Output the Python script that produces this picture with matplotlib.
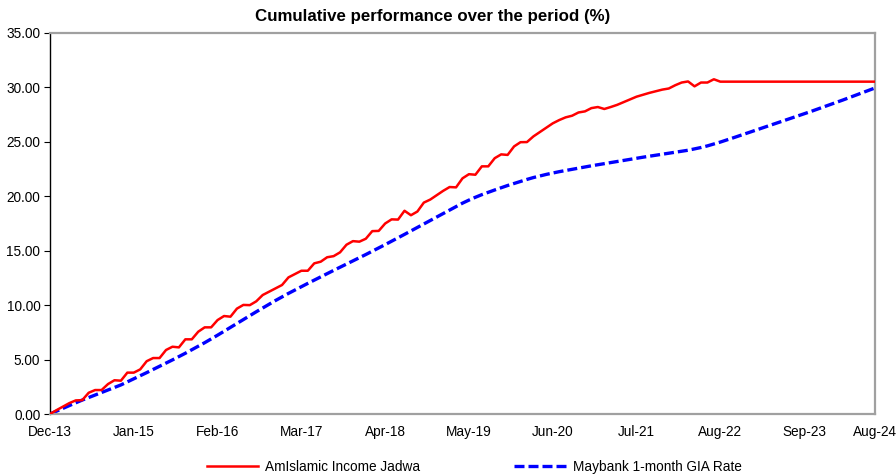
import matplotlib
matplotlib.use("Agg")
import matplotlib.pyplot as plt
import numpy as np

plt.rcParams['font.family'] = ['Liberation Sans', 'DejaVu Sans']

fund = [0.00, 0.35, 0.67, 1.00, 1.25, 1.27, 1.95, 2.20, 2.20, 2.75,
        3.10, 3.06, 3.80, 3.80, 4.10, 4.85, 5.14, 5.14, 5.88, 6.18,
        6.12, 6.86, 6.86, 7.56, 7.96, 7.96, 8.63, 9.00, 8.94, 9.68,
        10.02, 10.00, 10.35, 10.93, 11.24, 11.55, 11.85, 12.55, 12.86, 13.16,
        13.16, 13.84, 13.99, 14.40, 14.50, 14.85, 15.55, 15.88, 15.83, 16.10,
        16.80, 16.82, 17.50, 17.88, 17.86, 18.67, 18.26, 18.60, 19.42, 19.70,
        20.10, 20.50, 20.85, 20.82, 21.65, 22.03, 21.98, 22.75, 22.75, 23.50,
        23.85, 23.80, 24.58, 24.97, 24.98, 25.50, 25.90, 26.30, 26.70, 27.00,
        27.25, 27.40, 27.70, 27.80, 28.10, 28.20, 28.02, 28.20, 28.40, 28.65,
        28.90, 29.15, 29.33, 29.50, 29.65, 29.80, 29.90, 30.20, 30.45, 30.55,
        30.10, 30.45, 30.45, 30.75, 30.53, 30.53, 30.53, 30.53, 30.53, 30.53,
        30.53, 30.53, 30.53, 30.53, 30.53, 30.53, 30.53, 30.53, 30.53, 30.53,
        30.53, 30.53, 30.53, 30.53, 30.53, 30.53, 30.53, 30.53, 30.53]

benchmark = [0.00, 0.26, 0.52, 0.77, 1.03, 1.28, 1.51, 1.74, 1.97, 2.20,
             2.43, 2.67, 2.95, 3.23, 3.51, 3.80, 4.09, 4.38, 4.67, 4.97,
             5.27, 5.58, 5.90, 6.22, 6.55, 6.89, 7.24, 7.60, 7.96, 8.32,
             8.68, 9.04, 9.39, 9.74, 10.09, 10.43, 10.76, 11.08, 11.39, 11.70,
             12.00, 12.30, 12.60, 12.90, 13.19, 13.48, 13.77, 14.06, 14.35, 14.65,
             14.95, 15.25, 15.56, 15.87, 16.18, 16.50, 16.82, 17.14, 17.46, 17.78,
             18.10, 18.42, 18.74, 19.06, 19.37, 19.65, 19.91, 20.15, 20.37, 20.58,
             20.79, 20.99, 21.18, 21.37, 21.55, 21.72, 21.87, 22.01, 22.14, 22.26,
             22.37, 22.48, 22.59, 22.70, 22.80, 22.90, 23.00, 23.10, 23.20, 23.30,
             23.40, 23.50, 23.59, 23.68, 23.77, 23.86, 23.95, 24.04, 24.13, 24.23,
             24.35, 24.48, 24.63, 24.80, 24.98, 25.17, 25.37, 25.57, 25.77, 25.97,
             26.17, 26.37, 26.57, 26.77, 26.97, 27.17, 27.37, 27.57, 27.78, 27.99,
             28.20, 28.41, 28.62, 28.84, 29.06, 29.28, 29.50, 29.72, 29.95]

tick_pos = [0, 13, 26, 39, 52, 65, 78, 91, 104, 117, 128]
tick_labels = ["Dec-13", "Jan-15", "Feb-16", "Mar-17", "Apr-18", "May-19",
               "Jun-20", "Jul-21", "Aug-22", "Sep-23", "Aug-24"]
series_names = ["AmIslamic Income Jadwa", "Maybank 1-month GIA Rate"]

fig = plt.figure(figsize=(8.96, 4.76), dpi=100)
ax = fig.add_axes([50/896, 1-414/476, 825/896, 381/476])

x = np.arange(len(fund))
ax.plot(x, fund, color='#FF0000', lw=1.8, label=series_names[0], zorder=3)
ax.plot(np.arange(len(benchmark)), benchmark, color='#0000FF', lw=2.4,
        linestyle=(0, (3, 1.2)), dash_capstyle='butt', label=series_names[1], zorder=2)

ax.set_xlim(0, 128)
ax.set_ylim(0, 35)
ax.set_yticks(np.arange(0, 35.1, 5))
ax.set_yticklabels([f"{v:.2f}" for v in np.arange(0, 35.1, 5)], fontsize=9.8)
ax.set_xticks(tick_pos)
ax.set_xticklabels(tick_labels, fontsize=9.8)
ax.tick_params(axis='x', length=0, pad=8)
ax.tick_params(axis='y', length=4, width=0.8, color='black', pad=3, direction='out')

for s in ['top', 'right', 'bottom']:
    ax.spines[s].set_color('#a0a0a0')
    ax.spines[s].set_linewidth(1.6)
ax.spines['left'].set_color('black')
ax.spines['left'].set_linewidth(1.0)

fig.text(433/896, 1-16/476, "Cumulative performance over the period (%)",
         ha='center', va='center', fontsize=12.2, fontweight='bold')

fig.legend(loc='center', bbox_to_anchor=(474/896, 1-467/476), ncol=2, frameon=False,
           fontsize=9.8, handlelength=3.8, handletextpad=0.5, columnspacing=6.9)

fig.savefig("out.png", dpi=100)
